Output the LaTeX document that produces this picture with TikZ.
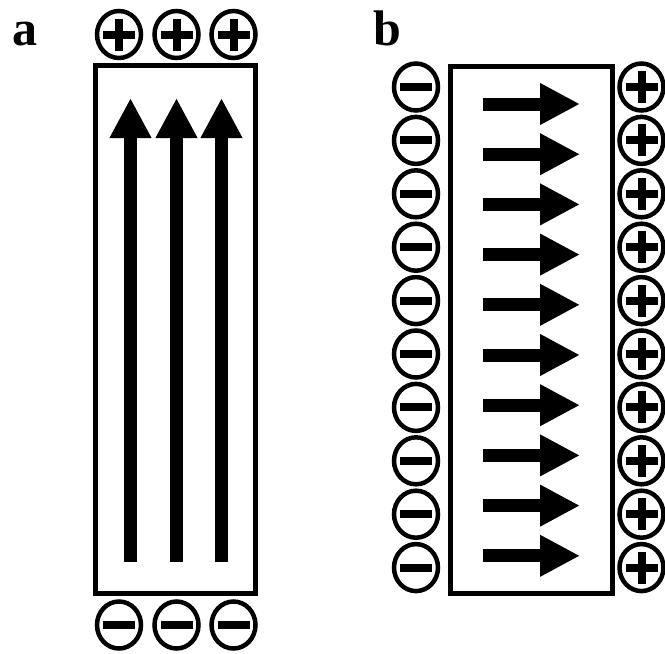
\documentclass[tikz,border=0pt]{standalone}
\usepackage{fontspec}
\setmainfont{Liberation Serif}
\usetikzlibrary{arrows.meta,shapes.geometric}
\begin{document}
\begin{tikzpicture}[x=1pt,y=-1pt,
  charge/.style={ellipse, draw, line width=4.5pt, minimum width=44pt, minimum height=47pt, inner sep=0pt, outer sep=0pt},
  minus/.style={charge, path picture={
      \draw[line width=8pt] ([xshift=-16pt]path picture bounding box.center) -- ([xshift=16pt]path picture bounding box.center);}},
  plus/.style={charge, path picture={
      \draw[line width=8pt] ([xshift=-16pt]path picture bounding box.center) -- ([xshift=16pt]path picture bounding box.center);
      \draw[line width=8pt] ([yshift=-16pt]path picture bounding box.center) -- ([yshift=16pt]path picture bounding box.center);}},
  slab/.style={draw, line width=5pt},
  field/.style={line width=13pt, -{Triangle[length=40pt, width=39pt]}},
  panel/.style={font=\fontsize{50}{60}\selectfont\bfseries, inner sep=0pt, anchor=base west}
]
\useasboundingbox (0,0) rectangle (665,654);

% panel a: field along the long axis
\node[panel] (la) at (12,45) {a};
\draw[slab] (95.5,65.5) rectangle (255.5,593);
\foreach \x [count=\i] in {119,176.5,233.5} {
  \node[plus]  (ta\i) at (\x,34.5) {};
  \node[minus] (ba\i) at (\x,625) {};
}
\foreach \x [count=\i] in {130.5,176.5,221.5} {
  \coordinate (as\i) at (\x,562);
  \coordinate (ae\i) at (\x,98);
  \draw[field] (as\i) -- (ae\i);
}

% panel b: field across the short axis
\node[panel] (lb) at (373,45) {b};
\draw[slab] (450.5,66) rectangle (612.5,593);
\foreach \i in {0,...,9} {
  \node[minus] (lm\i) at (416,87+53.4*\i) {};
  \node[plus]  (rp\i) at (641.5,87+53.4*\i) {};
  \coordinate (bs\i) at (483,104+50.2*\i);
  \coordinate (be\i) at (580,104+50.2*\i);
  \draw[field] (bs\i) -- (be\i);
}
\end{tikzpicture}
\end{document}
